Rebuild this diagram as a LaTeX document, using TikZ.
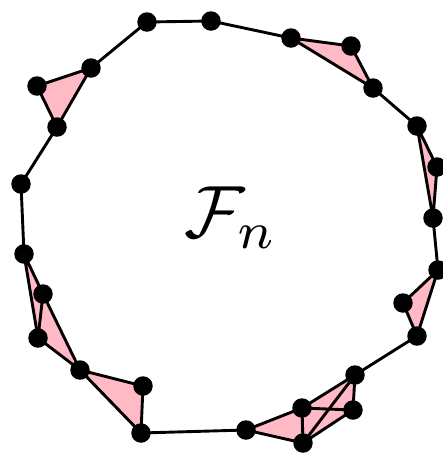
\documentclass[tikz,border=0pt]{standalone}
\usepackage{amsmath}
\usepackage{amssymb}
\usepackage{xcolor}
\definecolor{fnpink}{RGB}{255,186,198}
\usepackage{tikz}
\usetikzlibrary{backgrounds}

\tikzset{
  vtx/.style={circle, fill=black, inner sep=0pt, minimum size=19.5pt},
  edge/.style={black, line width=2.9pt},
  face/.style={fill=fnpink}
}

\begin{document}
\begin{tikzpicture}[x=1pt, y=-1pt]
  \useasboundingbox (0,0) rectangle (443,459);

  % --- Vertices, going round the cycle ---
  \node[vtx] (a) at (147,22) {};
  \node[vtx] (b) at (211,21) {};
  \node[vtx] (g) at (291,38) {};
  \node[vtx] (h) at (351,46) {};
  \node[vtx] (i) at (373,88) {};
  \node[vtx] (j) at (417,126) {};
  \node[vtx] (k) at (437,167) {};
  \node[vtx] (l) at (433,218) {};
  \node[vtx] (s) at (438,270) {};
  \node[vtx] (t) at (403,303) {};
  \node[vtx] (u) at (417,336) {};
  \node[vtx] (v) at (355,375) {};
  \node[vtx] (x) at (353,410) {};
  \node[vtx] (w) at (302,408) {};
  \node[vtx] (z) at (303,443) {};
  \node[vtx] (y) at (246,430) {};
  \node[vtx] (r) at (141,433) {};
  \node[vtx] (q) at (143,386) {};
  \node[vtx] (p) at (80,370) {};
  \node[vtx] (o) at (38,338) {};
  \node[vtx] (n) at (43,294) {};
  \node[vtx] (m) at (24,254) {};
  \node[vtx] (f) at (21,184) {};
  \node[vtx] (e) at (57,127) {};
  \node[vtx] (d) at (37,86) {};
  \node[vtx] (c) at (91,68) {};

  % Label in the middle
  \node[scale=7.4] (lbl) at (231,218) {$\mathcal{F}_n$};

  \begin{pgfonlayer}{background}
    % --- Pink faces ---
    \fill[face] (d.center) -- (c.center) -- (e.center) -- cycle;
    \fill[face] (g.center) -- (h.center) -- (i.center) -- cycle;
    \fill[face] (j.center) -- (k.center) -- (l.center) -- cycle;
    \fill[face] (s.center) -- (t.center) -- (u.center) -- cycle;
    \fill[face] (y.center) -- (w.center) -- (v.center) -- (x.center) -- (z.center) -- cycle;
    \fill[face] (p.center) -- (q.center) -- (r.center) -- cycle;
    \fill[face] (m.center) -- (n.center) -- (p.center) -- (o.center) -- cycle;

    % --- Cycle edges ---
    \draw[edge] (a.center) -- (b.center) -- (g.center);
    \draw[edge] (c.center) -- (a.center);
    \draw[edge] (i.center) -- (j.center);
    \draw[edge] (l.center) -- (s.center);
    \draw[edge] (u.center) -- (v.center);
    \draw[edge] (y.center) -- (r.center);
    \draw[edge] (f.center) -- (e.center);
    \draw[edge] (f.center) -- (m.center);

    % --- Triangles ---
    \draw[edge] (d.center) -- (c.center) -- (e.center) -- cycle;
    \draw[edge] (g.center) -- (h.center) -- (i.center) -- cycle;
    \draw[edge] (j.center) -- (k.center) -- (l.center) -- cycle;
    \draw[edge] (s.center) -- (t.center) -- (u.center) -- cycle;
    \draw[edge] (p.center) -- (q.center) -- (r.center) -- cycle;

    % --- Bottom cluster ---
    \draw[edge] (y.center) -- (w.center) -- (v.center) -- (x.center) -- (z.center) -- cycle;
    \draw[edge] (w.center) -- (x.center);
    \draw[edge] (w.center) -- (z.center);
    \draw[edge] (v.center) -- (z.center);

    % --- Left strip ---
    \draw[edge] (m.center) -- (n.center) -- (p.center) -- (o.center) -- cycle;
    \draw[edge] (n.center) -- (o.center);
  \end{pgfonlayer}
\end{tikzpicture}
\end{document}
